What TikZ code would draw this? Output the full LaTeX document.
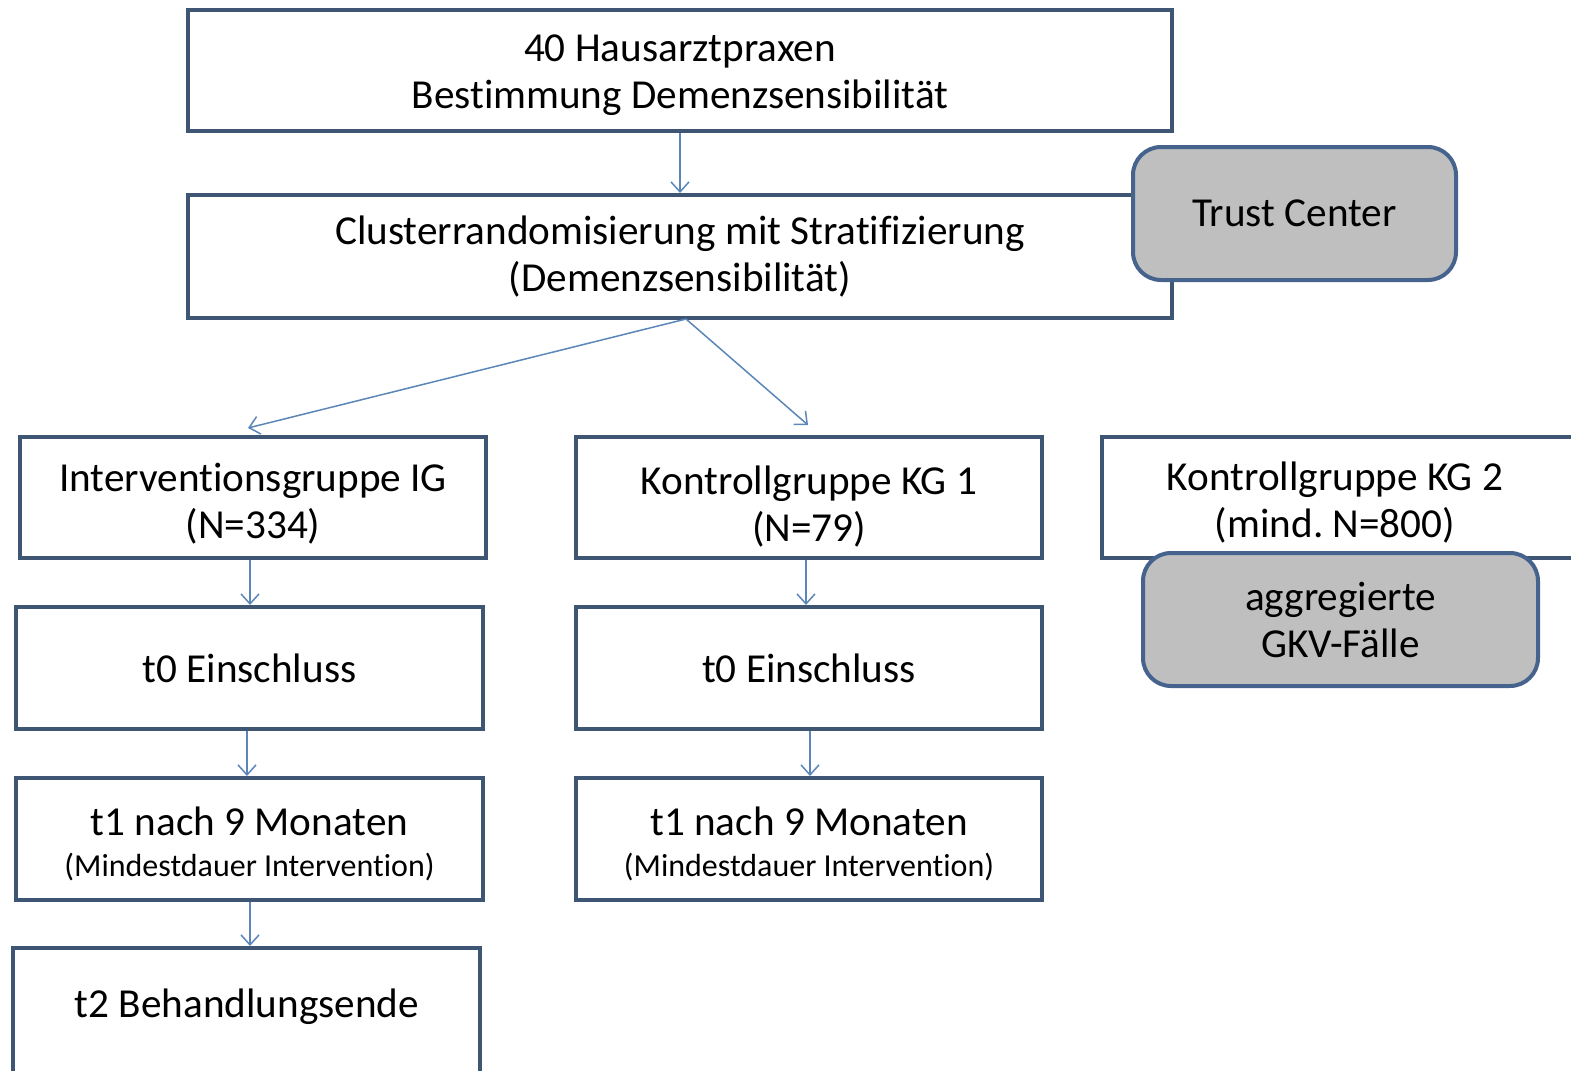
\documentclass[tikz,border=0pt]{standalone}
\usepackage{fontspec}
\setmainfont{Carlito}[Ligatures=CommonOff]
\usetikzlibrary{arrows.meta}
\frenchspacing
\definecolor{boxline}{HTML}{3E5574}
\definecolor{rline}{HTML}{45638C}
\definecolor{grayfill}{HTML}{BFBFBF}
\definecolor{arrc}{HTML}{5B86B8}
\tikzset{
  box/.style={draw=boxline, line width=2pt, fill=white, inner sep=0pt, align=center,
              font=\fontsize{20.6}{23.5}\selectfont},
  gbox/.style={draw=rline, line width=2pt, fill=grayfill, rounded corners=14pt, inner sep=0pt,
              align=center, font=\fontsize{20.6}{23.5}\selectfont},
  plain/.style={inner sep=0pt, align=center, font=\fontsize{20.6}{23.5}\selectfont},
  arr/.style={draw=arrc, line width=0.75pt, -{Straight Barb[length=5pt,width=9pt]}}
}
\newcommand{\smalltxt}[1]{{\fontsize{16}{19}\selectfont #1}}
\newcommand{\upstrut}[1]{\rule{0pt}{#1}}
\begin{document}
\begin{tikzpicture}[x=0.5pt,y=-0.5pt]
\useasboundingbox (0,0) rectangle (1571,1071);
\clip (0,0) rectangle (1571,1071);
% top
\node[box, minimum width=492pt, minimum height=60.5pt] (top) at (680,70.5)
  {\upstrut{18pt}40 Hausarztpraxen\\Bestimmung Demenzsensibilität};
\node[box, minimum width=492pt, minimum height=61.5pt] (clu) at (680,256.5)
  {Clusterrandomisierung mit Stratifizierung\\(Demenzsensibilität)};
\node[gbox, minimum width=161.5pt, minimum height=66.5pt] (tc) at (1294.5,213.5) {Trust Center};
% groups
\node[box, minimum width=233pt, minimum height=60.5pt] (ig) at (253,497.5)
  {\upstrut{20pt}Interventionsgruppe IG\\(N=334)};
\node[box, minimum width=233pt, minimum height=60.5pt] (kg1) at (809,497.5)
  {\upstrut{23pt}Kontrollgruppe KG 1\\(N=79)};
\node[box, minimum width=240pt, minimum height=60.5pt] (kg2) at (1342,497.5) {};
\node[plain] (kg2t) at (1335,503) {Kontrollgruppe KG 2\\(mind.\ N=800)};
\node[gbox, minimum width=197.5pt, minimum height=66.5pt] (agg) at (1340.5,619.5)
  {aggregierte\\GKV-Fälle};
% t0
\node[box, minimum width=233.5pt, minimum height=61pt] (t0a) at (249.5,668) {t0 Einschluss};
\node[box, minimum width=233pt, minimum height=61pt] (t0b) at (809,668) {t0 Einschluss};
% t1
\node[box, minimum width=233.5pt, minimum height=61pt] (t1a) at (249.5,839)
  {\upstrut{19pt}t1 nach 9 Monaten\\[-3pt]\smalltxt{(Mindestdauer Intervention)}};
\node[box, minimum width=233pt, minimum height=61pt] (t1b) at (809,839)
  {\upstrut{19pt}t1 nach 9 Monaten\\[-3pt]\smalltxt{(Mindestdauer Intervention)}};
% t2
\node[box, minimum width=233.5pt, minimum height=64pt] (t2) at (246.5,1012) {};
\node[plain] (t2t) at (247,1007) {t2 Behandlungsende};
% connectors
\coordinate (cs) at (686,319);
\coordinate (igin) at (248,428);
\coordinate (kgin) at (808,425);
\draw[arr] (top.south) -- (clu.north);
\draw[arr] (cs) -- (igin);
\draw[arr] (cs) -- (kgin);
\draw[arr] (ig.south -| 250,0) -- (t0a.north -| 250,0);
\draw[arr] (kg1.south -| 806,0) -- (t0b.north -| 806,0);
\draw[arr] (t0a.south -| 247,0) -- (t1a.north -| 247,0);
\draw[arr] (t0b.south -| 810,0) -- (t1b.north -| 810,0);
\draw[arr] (t1a.south -| 250,0) -- (t2.north -| 250,0);
\end{tikzpicture}
\end{document}
